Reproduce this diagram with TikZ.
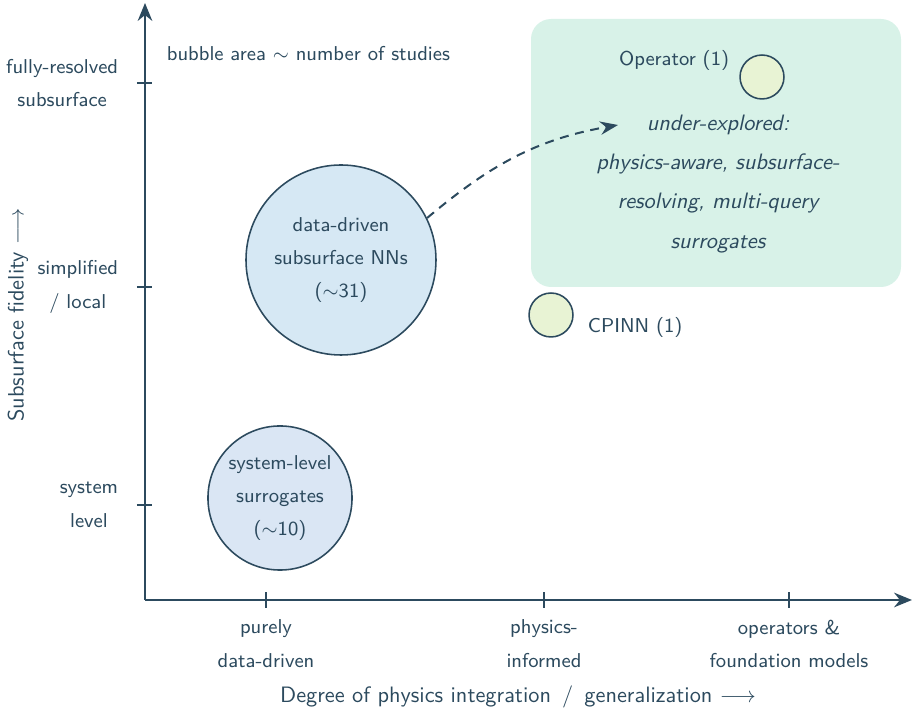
\documentclass[tikz,border=0pt]{standalone}
\usepackage{amsmath}
\usepackage{amssymb}
\usetikzlibrary{arrows.meta,positioning}

\definecolor{ink}{HTML}{2C4A5E}
\definecolor{ddblue}{HTML}{D6E8F4}
\definecolor{sysblue}{HTML}{DAE6F4}
\definecolor{onegreen}{HTML}{E8F3D4}
\definecolor{gapgreen}{HTML}{D8F2E8}

\begin{document}
\begin{tikzpicture}[x=0.4484pt,y=0.4484pt,
    every node/.style={text=ink, font=\sffamily\linespread{1.36}\small},
    bubble/.style={circle, draw=ink, line width=0.7pt, inner sep=0pt, align=center},
    ticklbl/.style={align=center},
    axis/.style={draw=ink, line width=1.1pt, -{Stealth[length=8pt,width=6.5pt]}}]
  \useasboundingbox (-145,-113) rectangle (767,600);
  %% under-explored region
  \fill[gapgreen, rounded corners=9pt] (386,313) rectangle (756,581);
  %% axes
  \coordinate (o) at (0,0);
  \coordinate (xend) at (767,0);
  \coordinate (yend) at (0,597);
  \draw[axis] (o) -- (xend);
  \draw[axis] (o) -- (yend);
  %% ticks and tick labels
  \foreach \x/\txt in {121/{purely\\data-driven}, 399/{physics-\\informed},
                       644/{operators \&\\foundation models}} {
    \draw[ink, line width=0.5pt] (\x,-8) -- (\x,8);
    \node[ticklbl, anchor=north] (xl\x) at (\x,-12) {\txt};
  }
  \foreach \y/\txt in {517/{fully-resolved\\subsurface}, 313/{simplified\\/ local},
                       95/{system\\level}} {
    \draw[ink, line width=0.5pt] (-8,\y) -- (7,\y);
    \node[ticklbl, anchor=east] (yl\y) at (-19,\y) {\txt};
  }
  %% axis labels
  \node[font=\sffamily\normalsize] (xlabel) at (373,-97)
    {Degree of physics integration \,/\, generalization $\longrightarrow$};
  \node[rotate=90, font=\sffamily\normalsize] (ylabel) at (-127,285)
    {Subsurface fidelity $\longrightarrow$};
  \node[anchor=west] (legend) at (14,546) {bubble area $\sim$ number of studies};
  %% bubbles
  \node[bubble, fill=ddblue, minimum size=85.2pt] (dd) at (196,340)
    {data-driven\\subsurface NNs\\($\sim$31)};
  \node[bubble, fill=sysblue, minimum size=64.6pt] (sys) at (135,102)
    {system-level\\surrogates\\($\sim$10)};
  \node[bubble, fill=onegreen, minimum size=19.7pt] (op) at (617,523) {};
  \node[bubble, fill=onegreen, minimum size=19.7pt] (cp) at (406,285) {};
  \node[anchor=east] (oplbl) at (592,540) {Operator (1)};
  \node[anchor=west] (cplbl) at (435,273) {CPINN (1)};
  %% gap text and pointer
  \node[align=center, font=\sffamily\itshape\linespread{1.46}\normalsize] (gaptxt) at (573,416)
    {under-explored:\\physics-aware, subsurface-\\resolving, multi-query\\surrogates};
  \coordinate (gap) at (473,475);
  \draw[ink, line width=0.9pt, dash pattern=on 4pt off 3pt, -{Stealth[length=8pt,width=6pt]}]
    (dd.26) to[out=40,in=190] (gap);
\end{tikzpicture}
\end{document}
